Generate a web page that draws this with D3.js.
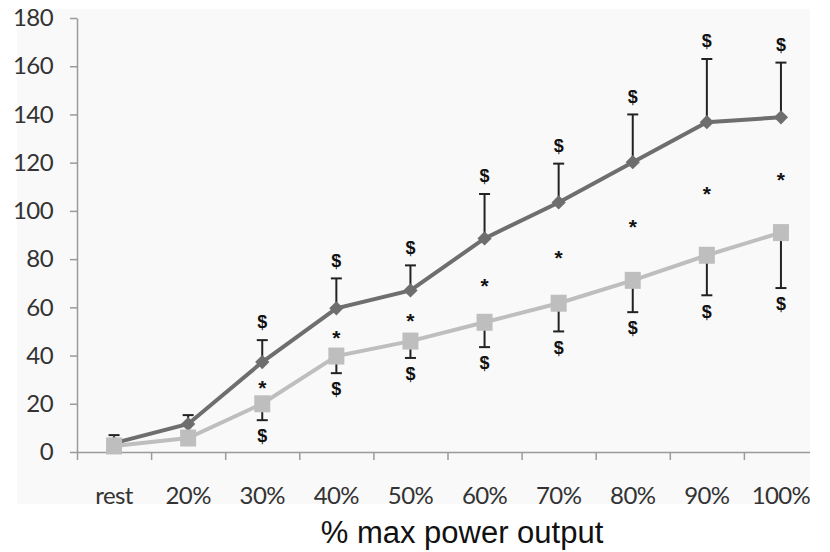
<!DOCTYPE html>
<html>
<head>
<meta charset="utf-8">
<script src="https://cdn.jsdelivr.net/npm/d3@7"></script>
<style>
  html, body { margin: 0; padding: 0; background: #ffffff; }
  svg { display: block; }
</style>
</head>
<body>
<svg id="chart" width="830" height="552"></svg>
<script>
// Stages of the incremental exercise test
const categories = ["rest", "20%", "30%", "40%", "50%", "60%", "70%", "80%", "90%", "100%"];

// Dark series (diamonds): mean and upper SD
const darkMean = [3.7, 11.6, 37.3, 59.6, 67.0, 88.6, 103.5, 120.2, 136.8, 138.8];
const darkSD   = [3.3, 3.7, 9.1, 12.4, 10.4, 18.4, 16.1, 19.8, 26.2, 22.7];

// Light series (squares): mean and lower SD
const lightMean = [2.5, 5.8, 20.0, 39.8, 46.0, 53.8, 61.7, 71.2, 81.6, 91.0];
const lightSD   = [1.5, 2.8, 6.8, 7.1, 7.0, 10.3, 11.7, 13.2, 16.6, 23.0];

// Significance marks per stage
const dollarAbove = [false, false, true, true, true, true, true, true, true, true];
const starBetween = [false, false, true, true, true, true, true, true, true, true];
const dollarBelow = [false, false, true, true, true, true, true, true, true, true];

const yTicks = [0, 20, 40, 60, 80, 100, 120, 140, 160, 180];
const xTitle = "% max power output";

const svg = d3.select("#chart");

const plotLeft = 77, plotRight = 818, plotTop = 18, plotBottom = 452;

const x = d3.scaleBand().domain(categories).range([plotLeft, plotRight]).padding(0);
const xEdge = d3.scaleLinear().domain([0, categories.length]).range([plotLeft, plotRight]);
const y = d3.scaleLinear().domain([0, 180]).range([plotBottom, plotTop]);

// clip to the visible chart frame
svg.append("defs").append("clipPath").attr("id", "frame")
  .append("rect").attr("x", 0).attr("y", 0).attr("width", 810).attr("height", 552);

const root = svg.append("g").attr("clip-path", "url(#frame)");

// plot background panel
root.append("rect")
  .attr("x", 17).attr("y", 9).attr("width", 793).attr("height", 495)
  .attr("fill", "#f9f9f9");

const axisColor = "#9a9a9a";
const tickFont = "Lato, 'Open Sans', sans-serif";

// y axis
const yAxis = root.append("g")
  .attr("transform", `translate(${plotLeft},0)`)
  .call(d3.axisLeft(y).tickValues(yTicks).tickSize(7).tickPadding(17).tickSizeOuter(0));
yAxis.select(".domain").attr("stroke", axisColor).attr("stroke-width", 1.5);
yAxis.selectAll(".tick line").attr("stroke", axisColor).attr("stroke-width", 1.5);
yAxis.selectAll(".tick text")
  .attr("fill", "#333").attr("font-family", tickFont).attr("font-size", 24)
  .attr("letter-spacing", -0.6);

// x axis: ticks between categories
const xAxis = root.append("g")
  .attr("transform", `translate(0,${plotBottom})`)
  .call(d3.axisBottom(xEdge).tickValues(d3.range(0, categories.length + 1)).tickSize(8).tickFormat("").tickSizeOuter(0));
xAxis.select(".domain").attr("stroke", axisColor).attr("stroke-width", 1.5);
xAxis.selectAll(".tick line").attr("stroke", axisColor).attr("stroke-width", 1.5);

// x category labels
const xLabels = root.append("g")
  .attr("transform", `translate(0,${plotBottom})`)
  .call(d3.axisBottom(x).tickSize(0).tickPadding(35));
xLabels.select(".domain").remove();
xLabels.selectAll(".tick text")
  .attr("fill", "#333").attr("font-family", tickFont).attr("font-size", 24)
  .attr("letter-spacing", -0.6);

const cx = d => x(d) + x.bandwidth() / 2;

const darkData = categories.map((c, i) => ({c, v: darkMean[i], sd: darkSD[i]}));
const lightData = categories.map((c, i) => ({c, v: lightMean[i], sd: lightSD[i]}));

const line = d3.line().x(d => cx(d.c)).y(d => y(d.v));

const barColor = "#222";
const capHalf = 5.5;

// dark upper error bars
const darkErr = root.append("g");
darkData.forEach(d => {
  const y0 = y(d.v), y1 = y(d.v + d.sd), xc = cx(d.c);
  darkErr.append("line").attr("x1", xc).attr("x2", xc).attr("y1", y0).attr("y2", y1)
    .attr("stroke", barColor).attr("stroke-width", 2);
  darkErr.append("line").attr("x1", xc - capHalf).attr("x2", xc + capHalf).attr("y1", y1).attr("y2", y1)
    .attr("stroke", barColor).attr("stroke-width", 2);
});

root.append("path").datum(darkData)
  .attr("d", line).attr("fill", "none").attr("stroke", "#6e6e6e").attr("stroke-width", 4);

root.append("g").selectAll("path").data(darkData).join("path")
  .attr("d", d3.symbol().type(d3.symbolDiamond2).size(130))
  .attr("transform", d => `translate(${cx(d.c)},${y(d.v)})`)
  .attr("fill", "#6e6e6e");

// light lower error bars
const lightErr = root.append("g");
lightData.forEach(d => {
  const y0 = y(d.v), y1 = y(d.v - d.sd), xc = cx(d.c);
  lightErr.append("line").attr("x1", xc).attr("x2", xc).attr("y1", y0).attr("y2", y1)
    .attr("stroke", barColor).attr("stroke-width", 2);
  lightErr.append("line").attr("x1", xc - capHalf).attr("x2", xc + capHalf).attr("y1", y1).attr("y2", y1)
    .attr("stroke", barColor).attr("stroke-width", 2);
});

root.append("path").datum(lightData)
  .attr("d", line).attr("fill", "none").attr("stroke", "#bebebe").attr("stroke-width", 4);

root.append("g").selectAll("rect").data(lightData).join("rect")
  .attr("x", d => cx(d.c) - 8).attr("y", d => y(d.v) - 8.5)
  .attr("width", 16).attr("height", 17)
  .attr("fill", "#bebebe");

// significance annotations
const markFont = "'Liberation Sans', Arial, sans-serif";
const marks = root.append("g")
  .attr("font-family", markFont).attr("font-weight", "bold")
  .attr("fill", "#111").attr("text-anchor", "middle");

categories.forEach((c, i) => {
  const xc = cx(c);
  if (dollarAbove[i]) {
    marks.append("text").attr("x", xc).attr("y", y(darkMean[i] + darkSD[i]) - 18)
      .attr("dy", "0.35em").attr("font-size", 18).text("$");
  }
  if (starBetween[i]) {
    marks.append("text").attr("x", xc).attr("y", (y(darkMean[i]) + y(lightMean[i])) / 2 + 5)
      .attr("dy", "0.35em").attr("font-size", 21).text("*");
  }
  if (dollarBelow[i]) {
    marks.append("text").attr("x", xc).attr("y", y(lightMean[i] - lightSD[i]) + 16)
      .attr("dy", "0.35em").attr("font-size", 18).text("$");
  }
});

// axis title
svg.append("text")
  .attr("x", 462).attr("y", 543)
  .attr("text-anchor", "middle")
  .attr("font-family", "'Liberation Sans', Arial, sans-serif")
  .attr("font-size", 31).attr("fill", "#111")
  .text(xTitle);
</script>
</body>
</html>
